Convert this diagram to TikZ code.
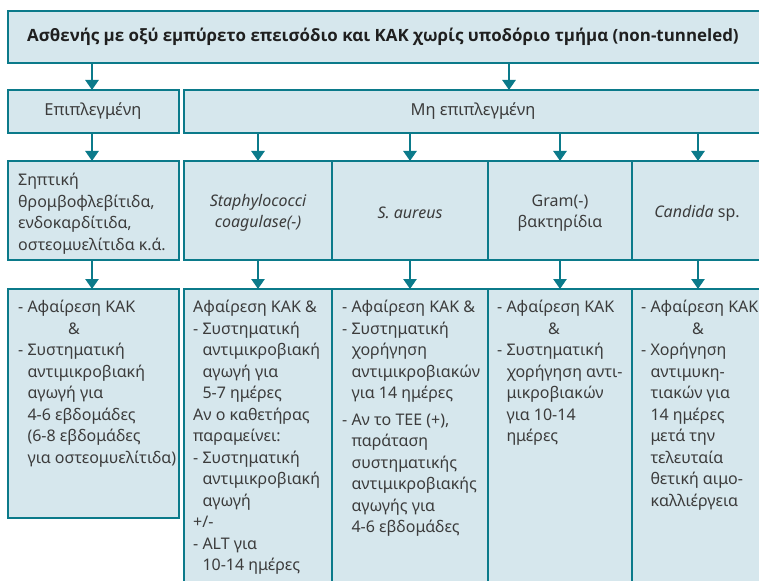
\documentclass[tikz,border=0pt]{standalone}
\usepackage{fontspec}
\setmainfont{Noto Sans}
\newfontfamily\titlefont{Open Sans}
\usetikzlibrary{arrows.meta}
\definecolor{teal1}{HTML}{0B7A8A}
\definecolor{fillb}{HTML}{D6E7ED}
\definecolor{txt}{HTML}{3C3C3C}
\begin{document}
\begin{tikzpicture}[x=1pt,y=-1pt,
  box/.style={draw=teal1, line width=2.6pt, fill=fillb, inner sep=0pt, outer sep=0pt, anchor=north west},
  arr/.style={draw=teal1, line width=2.5pt, -{Triangle[width=13pt,length=10pt]}},
  txtn/.style={text=txt, font=\fontsize{16}{21.5}\selectfont, align=left, inner sep=0pt, anchor=north west},
  txtc/.style={text=txt, font=\fontsize{16}{21.5}\selectfont, align=center, inner sep=0pt}]
\useasboundingbox (0,0) rectangle (759,580);
\clip (0,0) rectangle (759,580);
\fill[white] (0,0) rectangle (759,580);
% boxes
\node[box, minimum width=767pt, minimum height=52pt] (title) at (8,11) {};
\node[box, minimum width=171pt, minimum height=43pt] (b21) at (8,90) {};
\node[box, minimum width=591pt, minimum height=43pt] (b22) at (184,90) {};
\node[box, minimum width=171pt, minimum height=99pt] (b31) at (8,161) {};
\node[box, minimum width=148pt, minimum height=99pt] (b32) at (184,161) {};
\node[box, minimum width=156pt, minimum height=99pt] (b33) at (332,161) {};
\node[box, minimum width=144pt, minimum height=99pt] (b34) at (488,161) {};
\node[box, minimum width=143pt, minimum height=99pt] (b35) at (632,161) {};
\node[box, minimum width=171pt, minimum height=229pt] (b41) at (8,289) {};
\node[box, minimum width=148pt, minimum height=320pt] (b42) at (184,289) {};
\node[box, minimum width=156pt, minimum height=320pt] (b43) at (332,289) {};
\node[box, minimum width=144pt, minimum height=320pt] (b44) at (488,289) {};
\node[box, minimum width=143pt, minimum height=320pt] (b45) at (632,289) {};
% arrows
\coordinate (c21) at (92,90);
\coordinate (c22) at (509,90);
\coordinate (c35) at (698,161);
\coordinate (c45) at (698,289);
\draw[arr] (title.south -| c21) -- (c21);
\draw[arr] (title.south -| c22) -- (c22);
\draw[arr] (b21.south -| c21) -- (b31.north -| c21);
\draw[arr] (b22.south -| b32.north) -- (b32.north);
\draw[arr] (b22.south -| b33.north) -- (b33.north);
\draw[arr] (b22.south -| b34.north) -- (b34.north);
\draw[arr] (b22.south -| c35) -- (c35);
\draw[arr] (b31.south -| c21) -- (b41.north -| c21);
\draw[arr] (b32.south) -- (b42.north);
\draw[arr] (b33.south) -- (b43.north);
\draw[arr] (b34.south) -- (b44.north);
\draw[arr] (b35.south -| c45) -- (c45);
% texts
\node[text=black!88, font=\titlefont\fontsize{16.9}{20}\selectfont\bfseries, inner sep=0pt] (t1) at (383,37) {Ασθενής με οξύ εμπύρετο επεισόδιο και ΚΑΚ χωρίς υποδόριο τμήμα (non-tunneled)};
\node[txtc, font=\fontsize{16.5}{21.5}\selectfont] (t21) at (93,111) {Επιπλεγμένη};
\node[txtc, font=\fontsize{16.5}{21.5}\selectfont] (t22) at (473,111) {Μη επιπλεγμένη};
\node[txtn] (t31) at (18,173) {Σηπτική\\θρομβοφλεβίτιδα,\\ενδοκαρδίτιδα,\\οστεομυελίτιδα κ.ά.};
\node[txtc, font=\fontsize{16}{21.5}\selectfont\itshape] (t32) at (258,213) {Staphylococci\\coagulase(-)};
\node[txtc, font=\fontsize{16}{21.5}\selectfont\itshape] (t33) at (410,213) {S. aureus};
\node[txtc] (t34) at (560,213) {Gram(-)\\βακτηρίδια};
\node[txtc] (t35) at (697,213) {\textit{Candida} sp.};
\node[txtn] (t41) at (18,300) {- Αφαίρεση ΚΑΚ\\\hspace*{50pt}\&\\- Συστηματική\\\phantom{- }αντιμικροβιακή\\\phantom{- }αγωγή για\\\phantom{- }4-6 εβδομάδες\\\phantom{- }(6-8 εβδομάδες\\\phantom{- }για οστεομυελίτιδα)};
\node[txtn] (t42) at (193,300) {Αφαίρεση ΚΑΚ \&\\- Συστηματική\\\phantom{- }αντιμικροβιακή\\\phantom{- }αγωγή για\\\phantom{- }5-7 ημέρες\\Αν ο καθετήρας\\παραμείνει:\\- Συστηματική\\\phantom{- }αντιμικροβιακή\\\phantom{- }αγωγή\\+/-\\- ALT για\\\phantom{- }10-14 ημέρες};
\node[txtn] (t43) at (342,300) {- Αφαίρεση ΚΑΚ \&\\- Συστηματική\\\phantom{- }χορήγηση\\\phantom{- }αντιμικροβιακών\\\phantom{- }για 14 ημέρες\\[5pt]- Αν το TEE (+),\\\phantom{- }παράταση\\\phantom{- }συστηματικής\\\phantom{- }αντιμικροβιακής\\\phantom{- }αγωγής για\\\phantom{- }4-6 εβδομάδες};
\node[txtn] (t44) at (497,300) {- Αφαίρεση ΚΑΚ\\\hspace*{51pt}\&\\- Συστηματική\\\phantom{- }χορήγηση αντι-\\\phantom{- }μικροβιακών\\\phantom{- }για 10-14\\\phantom{- }ημέρες};
\node[txtn] (t45) at (641,300) {- Αφαίρεση ΚΑΚ\\\hspace*{51pt}\&\\- Χορήγηση\\\phantom{- }αντιμυκη-\\\phantom{- }τιακών για\\\phantom{- }14 ημέρες\\\phantom{- }μετά την\\\phantom{- }τελευταία\\\phantom{- }θετική αιμο-\\\phantom{- }καλλιέργεια};
\end{tikzpicture}
\end{document}
